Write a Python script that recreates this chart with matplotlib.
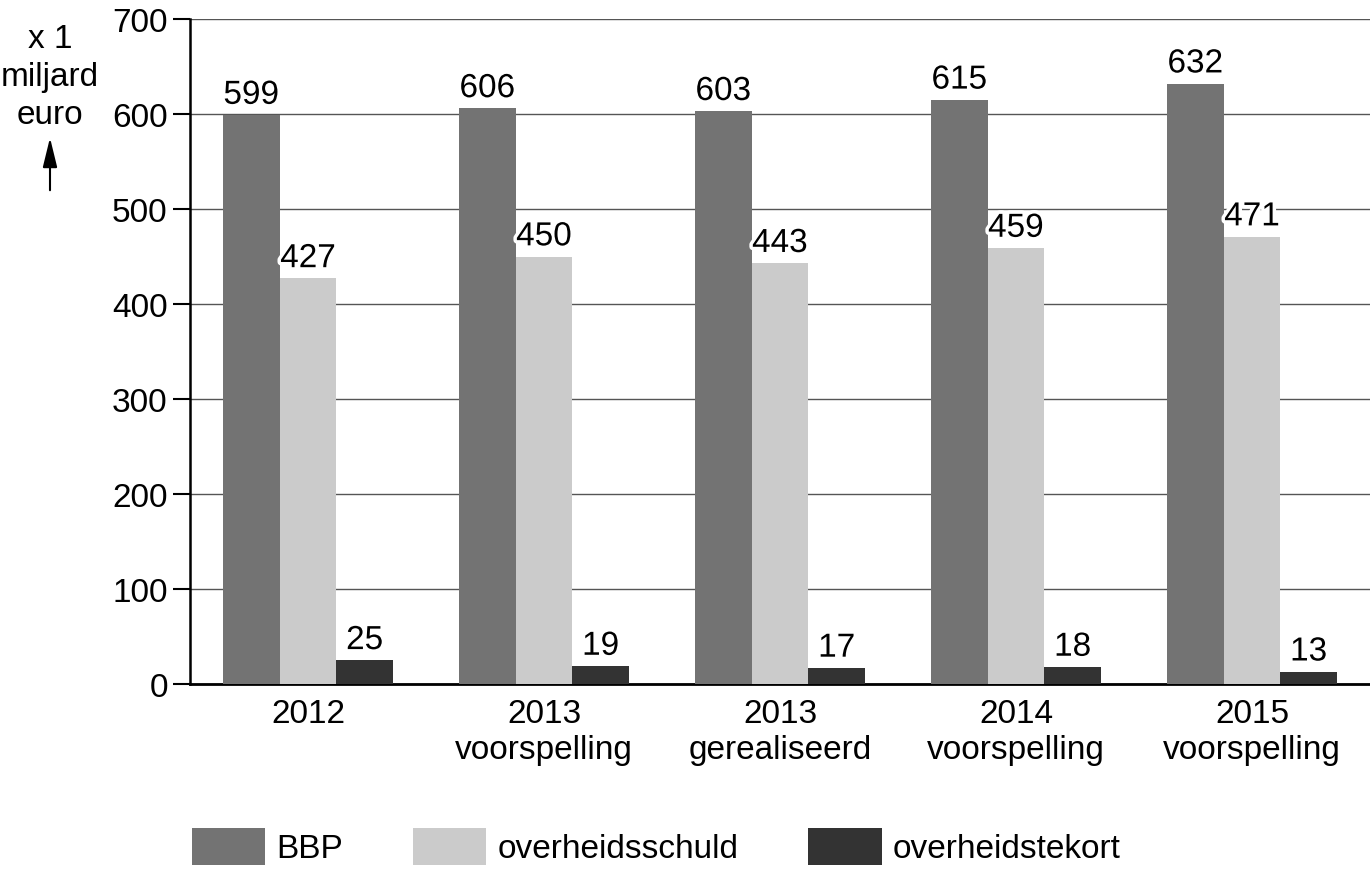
import numpy as np
import matplotlib.pyplot as plt
import matplotlib.patheffects as pe

# Gegevens uit de grafiek (x 1 miljard euro)
categories = ['2012', '2013\nvoorspelling', '2013\ngerealiseerd', '2014\nvoorspelling', '2015\nvoorspelling']
bbp = [599, 606, 603, 615, 632]
schuld = [427, 450, 443, 459, 471]
tekort = [25, 19, 17, 18, 13]
series_names = ['BBP', 'overheidsschuld', 'overheidstekort']
colors = ['#737373', '#cbcbcb', '#333333']
yticks = [0, 100, 200, 300, 400, 500, 600, 700]

plt.rcParams['font.family'] = ['Liberation Sans', 'DejaVu Sans']
fs = 24

fig = plt.figure(figsize=(13.7, 8.7), dpi=100)
ax = fig.add_axes([190 / 1370, 1 - 685 / 870, 1180 / 1370, 665 / 870])

x = np.arange(len(categories))
w = 0.24
for i, (vals, name, col) in enumerate(zip([bbp, schuld, tekort], series_names, colors)):
    pos = x + (i - 1) * w
    ax.bar(pos, vals, width=w, color=col, label=name, zorder=3)
    for px, v in zip(pos, vals):
        ax.annotate(str(v), (px, v), xytext=(0, 3), textcoords='offset points',
                    ha='center', va='bottom', fontsize=fs, zorder=5,
                    path_effects=[pe.withStroke(linewidth=5, foreground='white')])

ax.set_xlim(-0.5, 4.5)
ax.set_ylim(0, 700)
ax.set_yticks(yticks)
ax.set_xticks(x)
ax.set_xticklabels(categories, linespacing=1.2)
ax.tick_params(axis='x', length=0, pad=10, labelsize=fs)
ax.tick_params(axis='y', length=12, width=1.5, labelsize=fs, pad=4)
ax.grid(axis='y', color='#555555', linewidth=1, zorder=0)

for s in ['top', 'right']:
    ax.spines[s].set_visible(False)
ax.spines['left'].set_linewidth(1.8)
ax.spines['bottom'].set_linewidth(2)

# As-label met pijl
fig.text(50 / 1370, 1 - 24 / 870, 'x 1\nmiljard\neuro', ha='center', va='top',
         fontsize=fs, linespacing=1.3)
fig.add_artist(plt.Annotation('', xy=(50 / 1370, 1 - 136 / 870), xytext=(50 / 1370, 1 - 194 / 870),
                              xycoords='figure fraction',
                              arrowprops=dict(arrowstyle='-|>,head_width=0.22,head_length=0.9',
                                              color='black', lw=1.5, mutation_scale=20)))

fig.legend(loc='lower left', bbox_to_anchor=(192 / 1370, 4 / 870), ncol=3, frameon=False,
           fontsize=fs, handlelength=2.2, handleheight=1.35, handletextpad=0.33,
           columnspacing=2.1, borderpad=0, borderaxespad=0)

plt.savefig('out.png', dpi=100)
